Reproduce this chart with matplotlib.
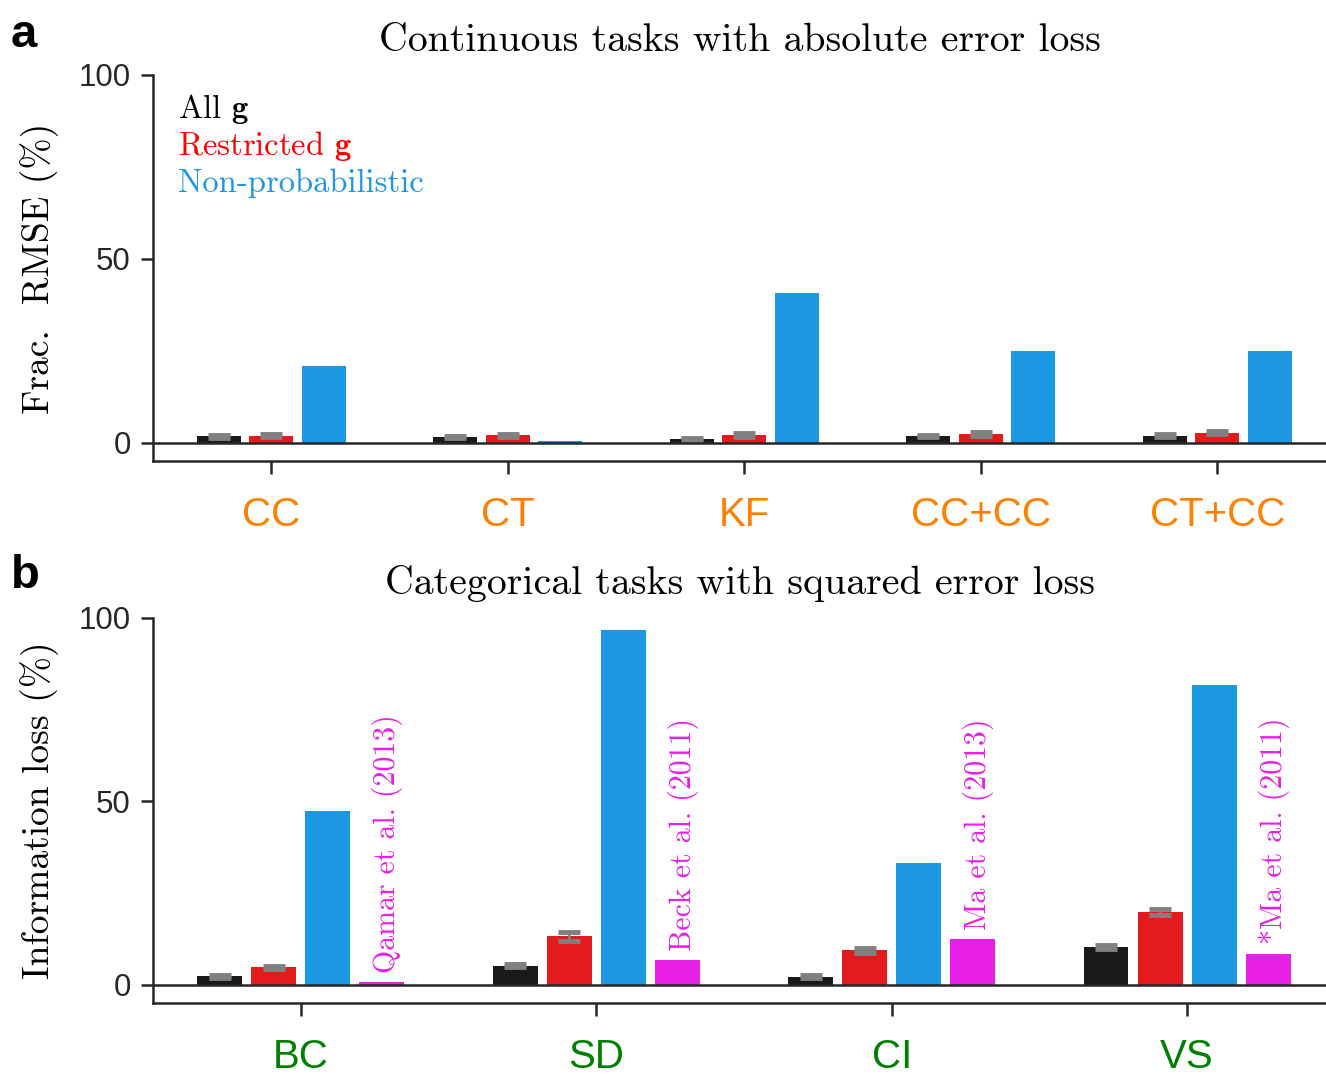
"""Bar summary of information loss for continuous and categorical tasks."""

import matplotlib.pyplot as plt
import numpy as np

plt.rcParams["mathtext.fontset"] = "cm"

SANS = "Liberation Sans"
SERIF = "cmr10"

C_ALL = "#1a1a1a"
C_RESTRICTED = "#e41b1d"
C_NONPROB = "#1c98e2"
C_PRIOR = "#e81fe6"
C_ERR = "#808080"
C_SPINE = "#262626"

# panel a: continuous tasks, fractional RMSE (%)
cont_tasks = ["CC", "CT", "KF", "CC+CC", "CT+CC"]
cont_all = [1.7, 1.5, 0.9, 1.8, 1.9]
cont_all_err = [0.35, 0.35, 0.3, 0.35, 0.35]
cont_restricted = [1.8, 2.0, 2.1, 2.3, 2.7]
cont_restricted_err = [0.4, 0.45, 0.45, 0.45, 0.5]
cont_nonprob = [20.7, 0.4, 40.8, 25.0, 25.0]

# panel b: categorical tasks, information loss (%)
cat_tasks = ["BC", "SD", "CI", "VS"]
cat_all = [2.3, 5.2, 2.2, 10.2]
cat_all_err = [0.4, 0.5, 0.4, 0.5]
cat_restricted = [4.7, 13.2, 9.4, 19.8]
cat_restricted_err = [0.5, 1.3, 0.7, 0.8]
cat_nonprob = [47.4, 96.7, 33.3, 81.7]
cat_prior = [0.8, 6.7, 12.5, 8.5]
cat_prior_labels = [
    "Qamar et al. (2013)",
    "Beck et al. (2011)",
    "Ma et al. (2013)",
    "*Ma et al. (2011)",
]


def style_axes(ax, tasks, label_colour, xmax):
    ax.spines["top"].set_visible(False)
    ax.spines["right"].set_visible(False)
    for side in ("left", "bottom"):
        ax.spines[side].set_linewidth(1.8)
        ax.spines[side].set_color(C_SPINE)
    ax.axhline(0, color=C_SPINE, lw=1.8, zorder=4)
    ax.set_ylim(-5, 100)
    ax.set_xlim(-0.5, xmax)
    ax.set_yticks([0, 50, 100])
    ax.set_xticks(np.arange(len(tasks)))
    ax.set_xticklabels(tasks, fontsize=29, color=label_colour, family=SANS)
    ax.tick_params(axis="x", length=9, width=1.8, color=C_SPINE, pad=16)
    ax.tick_params(axis="y", length=9, width=1.8, color=C_SPINE, pad=7)
    for lab in ax.get_yticklabels():
        lab.set_fontsize(22.5)
        lab.set_family(SANS)
        lab.set_color(C_SPINE)


def draw_bar(ax, x, heights, width, colour, errors=None):
    ax.bar(x, heights, width=width, color=colour, zorder=2)
    if errors is not None:
        ax.errorbar(
            x, heights, yerr=errors, fmt="none", ecolor=C_ERR,
            elinewidth=2, capsize=8, capthick=3.5, zorder=3,
        )


fig = plt.figure(figsize=(13.26, 10.74), dpi=100)
ax_a = fig.add_axes([0.1154, 0.5708, 0.8846, 0.3594])
ax_b = fig.add_axes([0.1154, 0.0661, 0.8846, 0.3585])

# panel a
x = np.arange(len(cont_tasks))
step, width = 0.222, 0.187
draw_bar(ax_a, x - step, cont_all, width, C_ALL, cont_all_err)
draw_bar(ax_a, x, cont_restricted, width, C_RESTRICTED, cont_restricted_err)
draw_bar(ax_a, x + step, cont_nonprob, width, C_NONPROB)
style_axes(ax_a, cont_tasks, "#ff8000", 4.46)
ax_a.set_title("Continuous tasks with absolute error loss",
               family=SERIF, fontsize=28.7, pad=17)
ax_a.set_ylabel("Frac.  RMSE (%)", family=SERIF, fontsize=27, labelpad=14)

legend_items = [
    (r"All $\mathbf{g}$", "black"),
    (r"Restricted $\mathbf{g}$", "#ff0000"),
    ("Non-probabilistic", "#1e96e6"),
]
for i, (text, colour) in enumerate(legend_items):
    ax_a.text(0.0213, 0.889 - 0.096 * i, text, transform=ax_a.transAxes,
              family=SERIF, fontsize=23.5, color=colour, va="baseline")

# panel b
x = np.arange(len(cat_tasks))
step, width = 0.183, 0.152
draw_bar(ax_b, x - 1.5 * step, cat_all, width, C_ALL, cat_all_err)
draw_bar(ax_b, x - 0.5 * step, cat_restricted, width, C_RESTRICTED, cat_restricted_err)
draw_bar(ax_b, x + 0.5 * step, cat_nonprob, width, C_NONPROB)
draw_bar(ax_b, x + 1.5 * step, cat_prior, width, C_PRIOR)
for xi, h, text in zip(x + 1.5 * step, cat_prior, cat_prior_labels):
    ax_b.text(xi + 0.02, h + 2.5, text, rotation=90, ha="center", va="bottom",
              family=SERIF, fontsize=21.5, color=C_PRIOR)
style_axes(ax_b, cat_tasks, "#008000", 3.47)
ax_b.set_title("Categorical tasks with squared error loss",
               family=SERIF, fontsize=28.7, pad=17)
ax_b.set_ylabel("Information loss (%)", family=SERIF, fontsize=27, labelpad=14)

fig.text(0.008, 0.988, "a", family=SANS, weight="bold", fontsize=34, va="top")
fig.text(0.008, 0.484, "b", family=SANS, weight="bold", fontsize=34, va="top")

fig.savefig("out.png", dpi=100)
